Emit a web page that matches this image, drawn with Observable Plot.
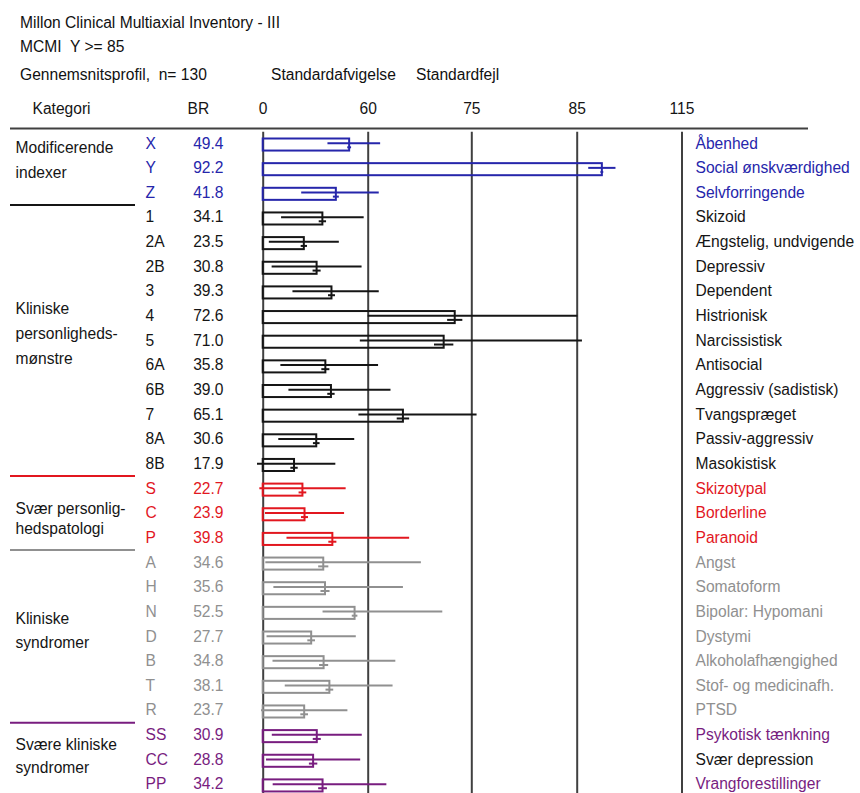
<!DOCTYPE html>
<html><head><meta charset="utf-8">
<script src="https://cdn.jsdelivr.net/npm/d3@7"></script>
<script src="https://cdn.jsdelivr.net/npm/@observablehq/plot@0.6"></script>
<style>
html,body{margin:0;padding:0;background:#fff;}
#page{position:relative;width:860px;height:793px;overflow:hidden;font-family:"Liberation Sans",Arial,sans-serif;font-size:15.6px;color:#111;}
.t{position:absolute;line-height:18px;white-space:pre;}
#chart{position:absolute;left:0;top:90px;}
#chart svg{display:block;}
</style></head><body>
<div id="page">
<div class="t" style="left:20px;top:14px">Millon Clinical Multiaxial Inventory - III</div>
<div class="t" style="left:20px;top:38px">MCMI  Y &gt;= 85</div>
<div class="t" style="left:20px;top:66px">Gennemsnitsprofil,  n= 130</div>
<div class="t" style="left:271px;top:66px">Standardafvigelse</div>
<div class="t" style="left:416px;top:66px">Standardfejl</div>
<div id="chart"></div>
</div>
<script>
// ---- data ----
const codes = ["X","Y","Z","1","2A","2B","3","4","5","6A","6B","7","8A","8B","S","C","P","A","H","N","D","B","T","R","SS","CC","PP"];
const br = [49.4,92.2,41.8,34.1,23.5,30.8,39.3,72.6,71.0,35.8,39.0,65.1,30.6,17.9,22.7,23.9,39.8,34.6,35.6,52.5,27.7,34.8,38.1,23.7,30.9,28.8,34.2];
const sd = [12.4,3.9,19.8,23.6,20.0,25.7,22.3,12.6,15.5,25.7,24.3,10.4,21.7,23.6,24.7,22.6,26.2,33.1,29.5,18.3,25.5,29.2,25.5,24.7,25.7,26.9,28.5];
const se = [1.1,0.4,1.7,2.1,1.8,2.3,2.0,1.1,1.4,2.3,2.1,0.9,1.9,2.1,2.2,2.0,2.3,2.9,2.6,1.6,2.2,2.6,2.2,2.2,2.3,2.4,2.5];
const names = ["Åbenhed","Social ønskværdighed","Selvforringende","Skizoid","Ængstelig, undvigende","Depressiv","Dependent","Histrionisk","Narcissistisk","Antisocial","Aggressiv (sadistisk)","Tvangspræget","Passiv-aggressiv","Masokistisk","Skizotypal","Borderline","Paranoid","Angst","Somatoform","Bipolar: Hypomani","Dystymi","Alkoholafhængighed","Stof- og medicinafh.","PTSD","Psykotisk tænkning","Svær depression","Vrangforestillinger"];
const groups = ["Modificerende\nindexer","Kliniske\npersonligheds-\nmønstre","Svær personlig-\nhedspatologi","Kliniske\nsyndromer","Svære kliniske\nsyndromer"];
const groupSizes = [3,11,3,7,3];
const xTicks = [0,60,75,85,115];

// ---- styles ----
const groupStyle = [
  {color:"#2626ab", dy:-12, lh:1.58},
  {color:"#151515", dy:-11, lh:1.58},
  {color:"#e2171f", dy:3,   lh:1.25},
  {color:"#909090", dy:-10, lh:1.58},
  {color:"#781d7f", dy:-7,  lh:1.5}
];
const nameColorOverride = {CC:"#151515"};
const FONT = "15.6px";
const TEXT_DY = -1.5;

const gi = [];
groupSizes.forEach((n,g)=>{for(let k=0;k<n;k++) gi.push(g);});
const rows = codes.map((code,i)=>({
  code, br:br[i], sd:sd[i], se:se[i], name:names[i], g:gi[i],
  color: groupStyle[gi[i]].color,
  nameColor: nameColorOverride[code] || groupStyle[gi[i]].color
}));
const starts = [];
groupSizes.reduce((s,n)=>{starts.push(s); return s+n;},0);
const seps = starts.slice(1).map(s=>rows[s]);

const rowH = 24.65, rowTop = 42.2;
const groupMarks = groups.map((label,g)=>{
  const mid = rows[starts[g] + Math.floor(groupSizes[g]/2)];
  return Plot.text([label], {y: ()=>mid.code, frameAnchor:"left", dx:15, dy:groupStyle[g].dy,
    textAnchor:"start", lineAnchor:"middle", lineHeight:groupStyle[g].lh, fill:"#151515"});
});

const chart = Plot.plot({
  width: 860, height: 740,
  marginTop: 38, marginLeft: 0, marginRight: 0, marginBottom: 0,
  style: {fontFamily: '"Liberation Sans", Arial, sans-serif', fontSize: FONT, background: "transparent", color: "#151515"},
  x: {type:"linear", domain:[-3.4, ...xTicks], range:[257, 262.7, 367.7, 471.3, 576.7, 681.5], clamp:true, axis:null},
  y: {type:"band", domain: codes, range:[rowTop, rowTop + rowH*codes.length], padding:0, round:false, axis:null},
  color: {type:"identity"},
  marks: [
    // header divider
    Plot.ruleY([codes[0]], {dy:-16.5, stroke:"#404040", strokeWidth:2, insetLeft:10, insetRight:52}),
    // vertical grid
    Plot.ruleX(xTicks, {stroke:"#404040", strokeWidth:2, insetTop:3.7}),
    // axis labels
    Plot.axisX({anchor:"top", ticks:xTicks, tickSize:0, tickPadding:15, label:null, tickFormat:d=>String(d)}),
    Plot.text(["Kategori"], {frameAnchor:"top-left", dx:32, dy:-15, lineAnchor:"bottom", textAnchor:"start"}),
    Plot.text(["BR"], {frameAnchor:"top-left", dx:187, dy:-15, lineAnchor:"bottom", textAnchor:"start"}),
    // group separators
    Plot.ruleY(seps, {y:"code", dy:-14, stroke:"color", strokeWidth:2, insetLeft:10, insetRight:725}),
    ...groupMarks,
    // bars
    Plot.barX(rows, {x1:0, x2:"br", y:"code", fill:"none", stroke:"color", strokeWidth:2, insetTop:6.3, insetBottom:6.3}),
    // SD
    Plot.ruleY(rows, {y:"code", x1:d=>d.br-d.sd, x2:d=>d.br+d.sd, dy:-1.8, stroke:"color", strokeWidth:2}),
    // SE
    Plot.ruleY(rows, {y:"code", x1:d=>d.br-d.se, x2:d=>d.br+d.se, dy:2.3, stroke:"color", strokeWidth:2}),
    // row texts
    Plot.text(rows, {y:"code", text:"code", frameAnchor:"left", dx:145, dy:TEXT_DY, textAnchor:"start", fill:"color"}),
    Plot.text(rows, {y:"code", text:d=>d.br.toFixed(1), frameAnchor:"left", dx:223, dy:TEXT_DY, textAnchor:"end", fill:"color"}),
    Plot.text(rows, {y:"code", text:"name", frameAnchor:"left", dx:695, dy:TEXT_DY, textAnchor:"start", fill:"nameColor"})
  ]
});
document.getElementById("chart").appendChild(chart);
</script>
</body></html>
